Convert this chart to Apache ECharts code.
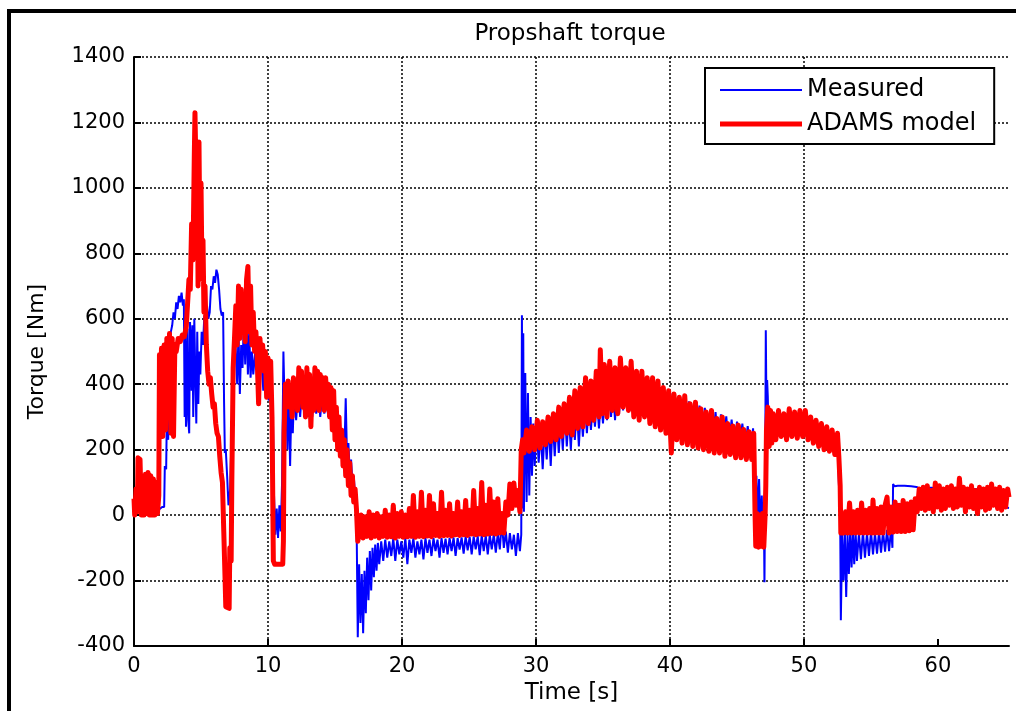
<!DOCTYPE html>
<html>
<head>
<meta charset="utf-8">
<script src="https://cdn.jsdelivr.net/npm/echarts@6/dist/echarts.min.js"></script>
<style>
html,body{margin:0;padding:0;background:#fff;}
#chart{width:1016px;height:711px;}
</style>
</head>
<body>
<div id="chart"></div>
<script>
// ---- data (time [s], torque [Nm]) ----
const titleText = "Propshaft torque";
const xName = "Time [s]";
const yName = "Torque [Nm]";
const seriesNames = ["Measured", "ADAMS model"];
const xTicks = [0, 10, 20, 30, 40, 50, 60];
const yTicks = [-400, -200, 0, 200, 400, 600, 800, 1000, 1200, 1400];

// Measured
const measuredA = [[0,40],[0.2,10],[0.4,30],[0.6,15],[0.9,25],[1.2,10],[1.5,20],[1.8,15],[2.1,25],[2.25,25],[2.3,150],[2.4,140],[2.45,300],[2.55,230],[2.65,420],[2.75,560],[2.85,580],[2.95,620],[3.05,600],[3.15,650],[3.25,630],[3.35,670],[3.45,650],[3.55,680],[3.65,640],[3.72,660],[3.78,300],[3.83,560],[3.88,270],[3.95,430],[4.0,570],[4.05,290],[4.12,250],[4.18,590],[4.25,520],[4.3,380],[4.36,580],[4.42,300],[4.5,600],[4.58,420],[4.65,280],[4.72,560],[4.8,340],[4.88,500],[4.95,430],[5.05,560],[5.15,520],[5.25,610],[5.35,570],[5.45,640],[5.55,600],[5.65,620],[5.75,700],[5.85,690],[5.95,730],[6.05,710],[6.15,750],[6.25,735],[6.35,690],[6.45,630],[6.55,610],[6.65,620],[6.72,350],[6.78,190],[6.85,200],[6.95,120],[7.05,30],[7.12,25],[7.18,80],[7.28,250],[7.38,400],[7.48,480],[7.58,520],[7.7,400],[7.8,560],[7.9,370],[8.0,520],[8.1,450],[8.2,600],[8.3,460],[8.4,620],[8.5,430],[8.6,560],[8.7,420],[8.8,500],[8.9,430],[9.05,500],[9.2,460],[9.35,520],[9.5,480],[9.65,380],[9.75,460],[9.85,400],[9.95,470],[10.05,350],[10.15,440],[10.25,250],[10.35,350],[10.45,60],[10.55,-60],[10.65,20],[10.75,-70],[10.85,30],[10.95,-50],[11.05,100],[11.15,500]];
const measuredB = [[11.25,320],[11.35,400],[11.45,200],[11.55,380],[11.65,150],[11.75,350],[11.85,250],[11.95,380],[12.1,290],[12.25,380],[12.4,300],[12.55,390],[12.7,310],[12.85,380],[13.0,300],[13.15,390],[13.3,300],[13.45,380],[13.6,310],[13.75,380],[13.9,300],[14.05,370],[14.2,310],[14.35,360],[14.5,300],[14.65,340],[14.8,270],[14.95,320],[15.1,220],[15.25,280],[15.4,200],[15.55,260],[15.7,190],[15.8,357],[15.9,170],[16.0,220],[16.1,130],[16.2,170],[16.3,100],[16.4,120],[16.5,60],[16.6,20]];
const measuredC = [[16.7,-373],[16.8,-150],[16.9,-330],[17.0,-180],[17.1,-361],[17.2,-170],[17.3,-300],[17.4,-130],[17.5,-260],[17.6,-110],[17.7,-230],[17.8,-100],[17.9,-190],[18.0,-90],[18.1,-170],[18.2,-85],[18.3,-150],[18.45,-80],[18.6,-140],[18.75,-75],[18.9,-130],[19.05,-80],[19.2,-125],[19.35,-70],[19.5,-140],[19.65,-75],[19.8,-120],[19.95,-80],[20.1,-130],[20.25,-70],[20.4,-150],[20.55,-75],[20.7,-115],[20.85,-70],[21.0,-130],[21.15,-80],[21.3,-120],[21.45,-75],[21.6,-135],[21.75,-70],[21.9,-115],[22.05,-75],[22.2,-125],[22.35,-70],[22.5,-110],[22.65,-75],[22.8,-130],[22.95,-70],[23.1,-115],[23.25,-72],[23.4,-120],[23.55,-70],[23.7,-110],[23.85,-68],[24.0,-125],[24.15,-70],[24.3,-105],[24.45,-68],[24.6,-118],[24.75,-65],[24.9,-108],[25.05,-66],[25.2,-120],[25.35,-65],[25.5,-105],[25.65,-64],[25.8,-122],[25.95,-62],[26.1,-110],[26.25,-62],[26.4,-120],[26.55,-60],[26.7,-105],[26.85,-58],[27.0,-115],[27.15,-55],[27.3,-105],[27.45,-20],[27.6,-100],[27.75,-50],[27.9,-115],[28.05,-55],[28.2,-105],[28.35,-60],[28.5,-125],[28.65,-55],[28.8,-110],[28.9,-60]];
const measuredD = [[28.95,611],[29.0,20],[29.05,556],[29.1,10],[29.2,434],[29.3,40],[29.4,373],[29.5,60],[29.6,300],[29.7,120],[29.8,280],[29.9,150],[30.05,270],[30.2,160],[30.35,260],[30.5,140],[30.65,270],[30.8,170],[30.95,280],[31.1,150],[31.25,290],[31.4,180],[31.55,300],[31.7,190],[31.85,300],[32.0,200],[32.15,320],[32.3,210],[32.45,310],[32.6,200],[32.75,320],[32.9,230],[33.05,330],[33.2,210],[33.35,330],[33.5,240],[33.65,340],[33.8,250],[33.95,345],[34.1,260],[34.25,350],[34.4,270],[34.55,355],[34.7,265],[34.85,360],[35.0,280],[35.15,370],[35.3,290],[35.45,380],[35.6,300],[35.75,385],[35.9,290],[36.05,390],[36.2,310],[36.35,395],[36.5,320],[36.65,400],[36.8,330],[36.95,400],[37.1,320],[37.25,400],[37.4,330],[37.55,395],[37.7,330],[37.85,390],[38.0,320],[38.2,390],[38.4,310],[38.6,385],[38.8,300],[39.0,380],[39.2,300],[39.4,378],[39.6,290],[39.8,375],[40.0,280],[40.2,373],[40.4,270],[40.6,362],[40.8,260],[41.0,355],[41.2,250],[41.4,348],[41.6,250],[41.8,340],[42.0,240],[42.2,335],[42.4,240],[42.6,328],[42.8,230],[43.0,322],[43.2,230],[43.4,315],[43.6,220],[43.8,308],[44.0,220],[44.2,302],[44.4,210],[44.6,292],[44.8,210],[45.0,286],[45.2,200],[45.4,280],[45.6,200],[45.8,272],[46.0,195],[46.2,265]];
const measuredE = [[46.35,60],[46.45,120],[46.55,-10],[46.65,110],[46.75,-50],[46.85,60],[46.95,-90],[47.0,40],[47.05,-205],[47.1,80],[47.15,565],[47.2,320],[47.25,413],[47.3,361],[47.35,250],[47.4,220],[47.5,321],[47.6,260],[47.7,300],[47.9,250],[48.1,300],[48.3,255],[48.5,305],[48.7,250],[48.9,300],[49.1,255],[49.3,300],[49.5,250],[49.7,295],[49.9,245],[50.1,295],[50.3,240],[50.5,285],[50.7,235],[50.9,280],[51.1,225],[51.3,275],[51.5,220],[51.7,270],[51.9,215],[52.1,265],[52.3,200],[52.5,250],[52.6,100],[52.7,0]];
const measuredF = [[52.75,-321],[52.85,-60],[52.95,-200],[53.05,-50],[53.15,-250],[53.25,-60],[53.35,-180],[53.45,-50],[53.55,-160],[53.65,-55],[53.75,-150],[53.85,-50],[53.95,-140],[54.1,-55],[54.25,-135],[54.4,-50],[54.55,-130],[54.7,-55],[54.85,-125],[55.0,-50],[55.15,-120],[55.3,-55],[55.45,-118],[55.6,-50],[55.75,-115],[55.9,-50],[56.05,-112],[56.2,-45],[56.35,-110],[56.5,-40],[56.6,-100],[56.65,95],[56.75,88],[57.0,90],[57.5,90],[58.0,88],[58.4,86],[58.6,82],[59.5,84],[60.5,80],[61.5,82],[62.5,80],[63.5,78],[64.5,80],[64.9,70],[65.0,24],[65.3,22]];

// ADAMS model
const modelA = [[0,50],[0.05,0],[0.15,80],[0.25,10],[0.3,175],[0.45,170],[0.55,0],[0.65,120],[0.75,0],[0.85,125],[0.95,5],[1.05,130],[1.15,0],[1.25,120],[1.35,0],[1.45,110],[1.55,0],[1.65,100],[1.75,5],[1.85,60],[1.9,490],[1.95,250],[2.05,510],[2.15,240],[2.25,520],[2.35,260],[2.45,540],[2.55,300],[2.65,555],[2.75,250],[2.85,540],[2.95,240],[3.05,520],[3.15,500],[3.3,540],[3.45,530],[3.6,550],[3.75,545],[3.9,575],[4.0,570],[4.1,720],[4.2,690],[4.3,890],[4.4,780],[4.5,1100],[4.55,1230],[4.65,1000],[4.72,1140],[4.78,700],[4.85,1140],[4.92,800],[5.0,1015],[5.08,720],[5.15,840],[5.22,620],[5.3,700],[5.4,520],[5.5,440],[5.6,400],[5.7,420],[5.8,370],[5.9,330],[6.0,340],[6.1,280],[6.2,250],[6.3,240],[6.4,180],[6.5,130],[6.6,100],[6.7,-50],[6.8,-200],[6.85,-280],[7.1,-285],[7.15,-100],[7.25,-140],[7.3,100],[7.4,450],[7.5,540],[7.6,640],[7.7,520],[7.8,700],[7.9,540],[8.0,690],[8.1,560],[8.2,660],[8.3,530],[8.4,720],[8.5,760],[8.6,560],[8.7,700],[8.8,520],[8.9,620],[9.0,500],[9.1,560],[9.2,470],[9.3,340],[9.4,540],[9.5,470],[9.6,520],[9.7,440],[9.8,500],[9.9,360],[10.0,480],[10.1,420],[10.2,470],[10.3,300],[10.4,-140],[10.5,-150],[11.1,-150],[11.15,-80],[11.2,250]];
const modelB = [[11.3,400],[11.4,330],[11.5,410],[11.6,330],[11.7,390],[11.8,300],[11.9,420],[12.0,340],[12.1,390],[12.2,320],[12.3,450],[12.4,350],[12.5,440],[12.6,330],[12.7,420],[12.8,300],[12.9,450],[13.0,340],[13.1,430],[13.2,270],[13.3,400],[13.4,320],[13.5,450],[13.6,330],[13.7,440],[13.8,320],[13.9,430],[14.0,340],[14.1,420],[14.2,320],[14.3,420],[14.4,350],[14.5,400],[14.6,300],[14.7,390],[14.8,260],[14.9,380],[15.0,230],[15.1,330],[15.2,200],[15.3,300],[15.4,180],[15.5,260],[15.6,150],[15.7,230],[15.8,120],[15.9,200],[16.0,90],[16.1,160],[16.2,60],[16.3,120],[16.4,40],[16.5,80],[16.6,20],[16.7,-80]];
const modelC = [[16.8,-60],[16.95,0],[17.1,-70],[17.25,-5],[17.4,-65],[17.55,10],[17.7,-70],[17.85,0],[18.0,-65],[18.15,5],[18.3,-70],[18.45,-5],[18.6,-65],[18.75,15],[18.9,-68],[19.05,0],[19.2,-66],[19.35,30],[19.5,-70],[19.65,5],[19.8,-65],[19.95,10],[20.1,-68],[20.25,0],[20.4,-66],[20.55,20],[20.7,-65],[20.85,60],[21.0,-68],[21.15,10],[21.3,-65],[21.45,70],[21.6,-66],[21.75,15],[21.9,-64],[22.05,60],[22.2,-66],[22.35,35],[22.5,-62],[22.65,5],[22.8,-65],[22.95,70],[23.1,-63],[23.25,15],[23.4,-62],[23.55,35],[23.7,-64],[23.85,5],[24.0,-60],[24.15,40],[24.3,-62],[24.45,10],[24.6,-60],[24.75,45],[24.9,-62],[25.05,15],[25.2,-58],[25.35,75],[25.5,-60],[25.65,20],[25.8,-58],[25.95,100],[26.1,-60],[26.25,30],[26.4,-58],[26.55,80],[26.7,-56],[26.85,40],[27.0,-58],[27.15,50],[27.3,-55],[27.45,5],[27.6,-55],[27.75,40],[27.9,0],[28.05,95],[28.2,20],[28.35,98],[28.5,30],[28.65,75],[28.8,10],[28.9,200]];
const modelD = [[29.0,230],[29.1,190],[29.3,260],[29.5,195],[29.7,270],[29.9,200],[30.1,290],[30.3,205],[30.5,285],[30.7,215],[30.9,300],[31.1,225],[31.3,310],[31.5,230],[31.7,330],[31.9,240],[32.1,340],[32.3,250],[32.5,360],[32.7,245],[32.9,380],[33.1,265],[33.3,390],[33.5,270],[33.7,420],[33.9,280],[34.1,410],[34.3,290],[34.5,440],[34.7,300],[34.8,505],[34.95,310],[35.1,460],[35.3,300],[35.5,470],[35.7,320],[35.9,450],[36.1,310],[36.3,480],[36.5,330],[36.7,450],[36.9,320],[37.1,470],[37.3,300],[37.5,440],[37.7,290],[37.9,440],[38.1,300],[38.3,420],[38.5,280],[38.7,420],[38.9,270],[39.1,410],[39.3,260],[39.5,390],[39.7,250],[39.9,380],[40.1,190],[40.3,370],[40.5,230],[40.7,360],[40.9,220],[41.1,365],[41.3,215],[41.5,340],[41.7,210],[41.9,345],[42.1,205],[42.3,325],[42.5,200],[42.7,315],[42.9,195],[43.1,320],[43.3,190],[43.5,295],[43.7,190],[43.9,300],[44.1,180],[44.3,280],[44.5,185],[44.7,272],[44.9,175],[45.1,275],[45.3,175],[45.5,262],[45.7,170],[45.9,255],[46.1,170],[46.25,250]];
const modelE = [[46.35,0],[46.4,-95],[46.5,5],[46.6,-98],[46.7,0],[46.8,-95],[46.9,5],[47.0,-98],[47.1,0],[47.15,90],[47.2,260],[47.3,330],[47.4,210],[47.5,320],[47.6,220],[47.7,310],[47.9,230],[48.1,320],[48.3,240],[48.5,310],[48.7,230],[48.9,325],[49.1,240],[49.3,315],[49.5,235],[49.7,320],[49.9,240],[50.1,320],[50.3,230],[50.5,300],[50.7,220],[50.9,290],[51.1,210],[51.3,280],[51.5,200],[51.7,270],[51.9,195],[52.1,260],[52.3,185],[52.5,250],[52.6,180],[52.7,90],[52.75,-55]];
const modelF = [[52.8,0],[52.95,-55],[53.1,10],[53.25,-55],[53.4,37],[53.55,-55],[53.7,10],[53.85,-55],[54.0,15],[54.15,-55],[54.3,37],[54.45,-55],[54.6,15],[54.75,-55],[54.9,20],[55.05,-55],[55.15,46],[55.3,-55],[55.45,20],[55.6,-55],[55.75,25],[55.9,-55],[56.05,30],[56.2,55],[56.35,-55],[56.5,25],[56.65,-52],[56.8,40],[56.95,-50],[57.1,30],[57.25,-50],[57.4,45],[57.55,-50],[57.7,35],[57.85,-48],[58.0,40],[58.15,-45],[58.3,50],[58.45,10],[58.6,80],[58.75,20],[58.9,85],[59.05,15],[59.2,90],[59.35,20],[59.5,75],[59.65,10],[59.8,98],[59.95,25],[60.1,90],[60.25,15],[60.4,80],[60.55,20],[60.7,85],[60.85,30],[61.0,90],[61.15,20],[61.3,80],[61.45,25],[61.6,113],[61.75,30],[61.9,85],[62.05,10],[62.2,80],[62.35,25],[62.5,90],[62.65,20],[62.8,75],[62.95,5],[63.1,85],[63.25,25],[63.4,80],[63.55,15],[63.7,85],[63.85,20],[64.0,95],[64.15,30],[64.3,80],[64.45,20],[64.6,85],[64.75,15],[64.9,75],[65.05,25],[65.2,80],[65.3,55]];

const measured = [].concat(measuredA, measuredB, measuredC, measuredD, measuredE, measuredF);
const model = [].concat(modelA, modelB, modelC, modelD, modelE, modelF);

const FONT = "DejaVu Sans";
const plain = v => String(v);
const chart = echarts.init(document.getElementById('chart'), null, {renderer: 'canvas'});
chart.setOption({
  animation: false,
  backgroundColor: '#ffffff',
  textStyle: {fontFamily: FONT, color: '#000'},
  title: {
    text: titleText,
    left: 565, top: 18, textAlign: 'center',
    textStyle: {fontFamily: FONT, fontSize: 23, fontWeight: 'normal', color: '#000'}
  },
  graphic: [{
    type: 'polyline', z: 100, silent: true,
    shape: {points: [[9, 900], [9, 11], [1200, 11]]},
    style: {fill: 'none', stroke: '#000', lineWidth: 4}
  }],
  legend: {
    data: [
      {name: seriesNames[0], icon: 'path://M0,0 L82,0 L82,2 L0,2 Z'},
      {name: seriesNames[1], icon: 'path://M0,0 L82,0 L82,5 L0,5 Z'}
    ],
    orient: 'vertical',
    left: 705, top: 68,
    padding: [10, 18, 8, 15],
    itemWidth: 82, itemHeight: 14, itemGap: 10,
    symbolKeepAspect: true,
    borderColor: '#000', borderWidth: 2,
    backgroundColor: '#fff',
    textStyle: {fontFamily: FONT, fontSize: 24, color: '#000'}
  },
  grid: {left: 134, right: 7, top: 57, bottom: 65, containLabel: false},
  xAxis: {
    type: 'value', min: 0, max: 65.3, interval: 10,
    name: xName, nameLocation: 'middle', nameGap: 35,
    nameTextStyle: {fontFamily: FONT, fontSize: 23, color: '#000'},
    axisLine: {show: true, onZero: false, lineStyle: {color: '#000', width: 2}},
    axisTick: {show: true, inside: true, length: 7, lineStyle: {color: '#000', width: 2}, customValues: xTicks},
    axisLabel: {fontFamily: FONT, fontSize: 21, color: '#000', margin: 10, customValues: xTicks, formatter: plain},
    splitLine: {show: true, showMaxLine: false, lineStyle: {color: '#000', width: 1.5, type: [2, 2]}}
  },
  yAxis: {
    type: 'value', min: -400, max: 1400, interval: 200,
    name: yName, nameLocation: 'middle', nameGap: 86,
    nameTextStyle: {fontFamily: FONT, fontSize: 22, color: '#000'},
    axisLine: {show: true, onZero: false, lineStyle: {color: '#000', width: 2}},
    axisTick: {show: true, inside: true, length: 7, lineStyle: {color: '#000', width: 2}, customValues: yTicks},
    axisLabel: {fontFamily: FONT, fontSize: 21, color: '#000', margin: 9, customValues: yTicks, formatter: plain},
    splitLine: {show: true, lineStyle: {color: '#000', width: 1.5, type: [2, 2]}}
  },
  series: [
    {
      name: seriesNames[0], type: 'line', data: measured,
      symbol: 'none', showSymbol: false,
      color: '#0000ff',
      lineStyle: {color: '#0000ff', width: 2},
      z: 3
    },
    {
      name: seriesNames[1], type: 'line', data: model,
      symbol: 'none', showSymbol: false,
      color: '#ff0000',
      lineStyle: {color: '#ff0000', width: 5, join: 'round'},
      z: 4
    }
  ]
});
</script>
</body>
</html>
